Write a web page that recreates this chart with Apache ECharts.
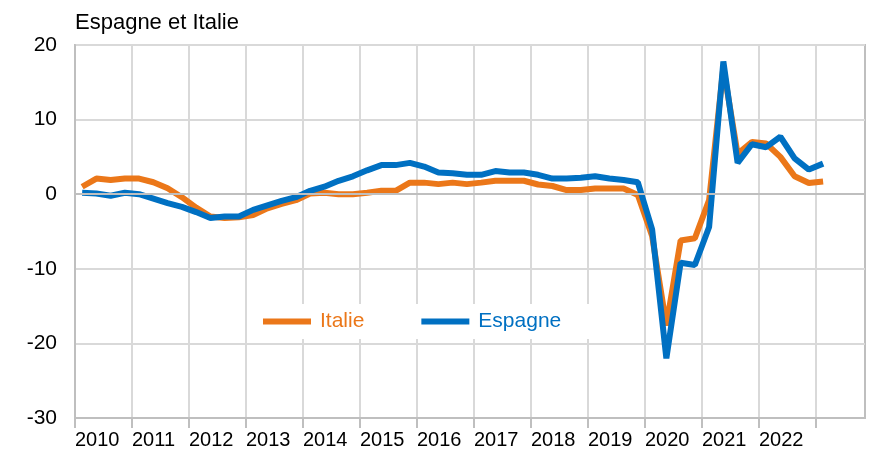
<!DOCTYPE html>
<html>
<head>
<meta charset="utf-8">
<script src="https://cdn.jsdelivr.net/npm/echarts@6/dist/echarts.min.js"></script>
<style>
  html, body { margin: 0; padding: 0; background: #fff; }
  #chart { width: 871px; height: 455px; }
</style>
</head>
<body>
<div id="chart"></div>
<script>
// trimestres (T1..T4), de 2010T1 a 2023T1
var quarters = [
  "2010T1", "2010T2", "2010T3", "2010T4",
  "2011T1", "2011T2", "2011T3", "2011T4",
  "2012T1", "2012T2", "2012T3", "2012T4",
  "2013T1", "2013T2", "2013T3", "2013T4",
  "2014T1", "2014T2", "2014T3", "2014T4",
  "2015T1", "2015T2", "2015T3", "2015T4",
  "2016T1", "2016T2", "2016T3", "2016T4",
  "2017T1", "2017T2", "2017T3", "2017T4",
  "2018T1", "2018T2", "2018T3", "2018T4",
  "2019T1", "2019T2", "2019T3", "2019T4",
  "2020T1", "2020T2", "2020T3", "2020T4",
  "2021T1", "2021T2", "2021T3", "2021T4",
  "2022T1", "2022T2", "2022T3", "2022T4",
  "2023T1"
];

var italie = [
  1.0, 2.1, 1.9, 2.1,
  2.1, 1.6, 0.8, -0.4,
  -1.8, -3.0, -3.2, -3.1,
  -2.8, -1.9, -1.3, -0.8,
  0.1, 0.2, 0.0, 0.0,
  0.2, 0.45, 0.45, 1.55,
  1.55, 1.35, 1.55, 1.35,
  1.55, 1.8, 1.8, 1.8,
  1.3, 1.1, 0.55, 0.55,
  0.75, 0.75, 0.75, -0.1,
  -5.6, -17.6, -6.2, -5.9,
  -0.8, 17.0, 5.4, 7.0,
  6.8, 5.0, 2.4, 1.5,
  1.7
];

var espagne = [
  0.2, 0.1, -0.2, 0.2,
  0.0, -0.6, -1.2, -1.7,
  -2.4, -3.2, -3.0, -3.0,
  -2.1, -1.5, -0.9, -0.4,
  0.45, 1.0, 1.8, 2.4,
  3.2, 3.9, 3.9, 4.2,
  3.7, 2.9, 2.8, 2.6,
  2.6, 3.1, 2.9, 2.9,
  2.6, 2.1, 2.1, 2.2,
  2.4, 2.1, 1.9, 1.6,
  -4.7, -22.0, -9.2, -9.5,
  -4.4, 17.8, 4.2, 6.7,
  6.3, 7.7, 4.8, 3.3,
  4.1
];

var yearTicks = [2010, 2011, 2012, 2013, 2014, 2015, 2016, 2017, 2018, 2019, 2020, 2021, 2022, 2023];
var yearLabels = [2010, 2011, 2012, 2013, 2014, 2015, 2016, 2017, 2018, 2019, 2020, 2021, 2022];

// position d'un trimestre au milieu de sa periode
function qPos(label) {
  var y = parseInt(label.slice(0, 4), 10);
  var q = parseInt(label.slice(5), 10);
  return y + (q - 0.5) / 4;
}

function pairs(values) {
  return values.map(function (v, i) {
    return [qPos(quarters[i]), v];
  });
}

var FONT = "Liberation Sans, Arial, sans-serif";
var ORANGE = "#EB7719";
var BLUE = "#0070C2";

var chart = echarts.init(document.getElementById("chart"));
var option = {
  animation: false,
  title: {
    text: "Espagne et Italie",
    left: 75,
    top: 12,
    padding: 0,
    textStyle: { fontFamily: FONT, fontSize: 22, fontWeight: "normal", color: "#000" }
  },
  legend: {
    left: 247,
    top: 304,
    padding: [7, 28, 7, 16],
    backgroundColor: "#fff",
    itemGap: 57,
    itemWidth: 48,
    itemHeight: 6,
    icon: "rect",
    textStyle: { fontFamily: FONT, fontSize: 21, padding: [0, 0, 4, 4] },
    data: [
      { name: "Italie", textStyle: { color: ORANGE } },
      { name: "Espagne", textStyle: { color: BLUE } }
    ]
  },
  grid: {
    left: 75,
    right: 6,
    top: 45,
    bottom: 37,
    show: true,
    borderColor: "#bfbfbf",
    borderWidth: 2
  },
  xAxis: {
    type: "value",
    min: 2010,
    max: 2023.86,
    interval: 1,
    axisLine: { show: true, onZero: false, lineStyle: { color: "#bfbfbf", width: 2 } },
    axisTick: { show: true, length: 10, customValues: yearTicks, lineStyle: { color: "#bfbfbf", width: 2 } },
    splitLine: { show: true, lineStyle: { color: "#d9d9d9", width: 2 } },
    axisLabel: {
      customValues: yearLabels,
      align: "left",
      margin: 12,
      fontFamily: FONT,
      fontSize: 20,
      color: "#000",
      formatter: function (v) { return String(Math.round(v)); }
    }
  },
  yAxis: {
    type: "value",
    min: -30,
    max: 20,
    interval: 10,
    axisLine: { show: true, lineStyle: { color: "#bfbfbf", width: 2 } },
    axisTick: { show: false },
    splitLine: { show: true, lineStyle: { color: "#d9d9d9", width: 2 } },
    axisLabel: { margin: 18, fontFamily: FONT, fontSize: 21, color: "#000" }
  },
  series: [
    {
      name: "Italie",
      type: "line",
      data: pairs(italie),
      showSymbol: false,
      symbol: "none",
      color: ORANGE,
      lineStyle: { width: 6, color: ORANGE },
      markLine: {
        silent: true,
        symbol: "none",
        label: { show: false },
        lineStyle: { color: "#bfbfbf", width: 2, type: "solid" },
        data: [{ yAxis: 0 }]
      },
      z: 2
    },
    {
      name: "Espagne",
      type: "line",
      data: pairs(espagne),
      showSymbol: false,
      symbol: "none",
      color: BLUE,
      lineStyle: { width: 6, color: BLUE },
      z: 3
    }
  ]
};
chart.setOption(option);
</script>
</body>
</html>
